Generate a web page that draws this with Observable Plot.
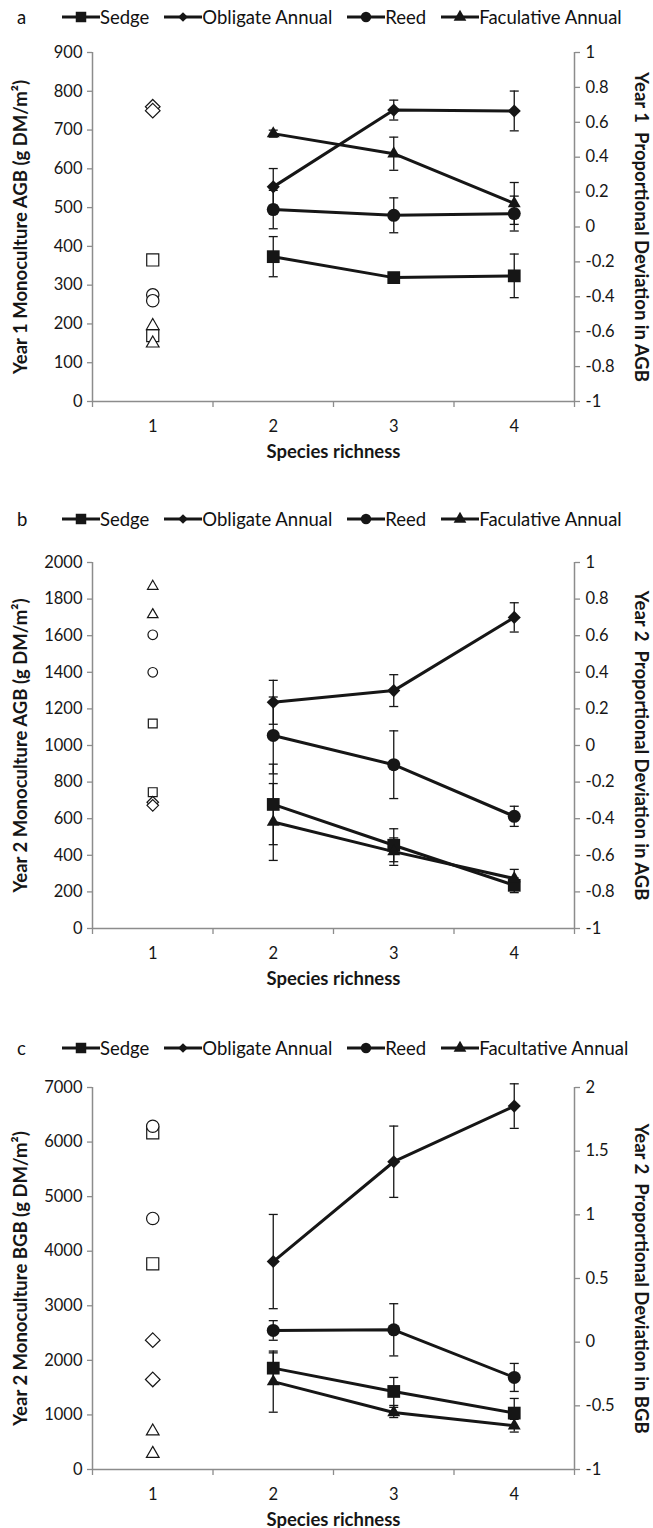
<!DOCTYPE html>
<html><head><meta charset="utf-8">
<script src="https://cdn.jsdelivr.net/npm/d3@7"></script>
<script src="https://cdn.jsdelivr.net/npm/@observablehq/plot@0.6"></script>
<style>
body{margin:0;background:#fff;font-family:Lato,"Open Sans",sans-serif;color:#111;}
.legend{display:flex;align-items:center;font-size:18.5px;white-space:nowrap;}
.legend .letter{width:62px;padding-left:17px;box-sizing:border-box;}
.legend .item{display:flex;align-items:center;margin-right:15px;}
.legend svg{display:block;}
svg{overflow:visible;}
</style></head><body><div id="chart"></div>
<script>
// ---------- shared ----------
const speciesKeys = ["sedge","obligate","reed","facultative"];
const speciesSymbols = ["square","diamond2","circle","triangle"];
const richnessMono = 1;
const richnessMix = [2,3,4];
const xTickLabels = [1,2,3,4];
const xTitle = "Species richness";

// ---------- panel a: Year 1 AGB ----------
const aLegend = ["Sedge","Obligate Annual","Reed","Faculative Annual"];
const aMonoSedge = [365,170];
const aMonoObligate = [760,750];
const aMonoReed = [275,260];
const aMonoFacultative = [195,150];
const aDevSedge = [-0.17,-0.29,-0.28];
const aDevObligate = [0.23,0.67,0.665];
const aDevReed = [0.10,0.067,0.077];
const aDevFacultative = [0.535,0.42,0.135];
const aErrSedge = [0.115,0.02,0.125];
const aErrObligate = [0.105,0.057,0.114];
const aErrReed = [0.11,0.10,0.10];
const aErrFacultative = [0.02,0.095,0.12];
const aLeftTicks = [0,100,200,300,400,500,600,700,800,900];
const aRightTicks = [-1,-0.8,-0.6,-0.4,-0.2,0,0.2,0.4,0.6,0.8,1];

// ---------- panel b: Year 2 AGB ----------
const bLegend = ["Sedge","Obligate Annual","Reed","Faculative Annual"];
const bMonoSedge = [1120,745];
const bMonoObligate = [690,673];
const bMonoReed = [1605,1400];
const bMonoFacultative = [1870,1715];
const bDevSedge = [-0.322,-0.545,-0.764];
const bDevObligate = [0.236,0.30,0.70];
const bDevReed = [0.055,-0.105,-0.387];
const bDevFacultative = [-0.418,-0.58,-0.727];
const bErrSedge = [0.22,0.09,0.04];
const bErrObligate = [0.12,0.087,0.08];
const bErrReed = [0.21,0.185,0.055];
const bErrFacultative = [0.21,0.075,0.05];
const bLeftTicks = [0,200,400,600,800,1000,1200,1400,1600,1800,2000];
const bRightTicks = [-1,-0.8,-0.6,-0.4,-0.2,0,0.2,0.4,0.6,0.8,1];

// ---------- panel c: Year 2 BGB ----------
const cLegend = ["Sedge","Obligate Annual","Reed","Facultative Annual"];
const cMonoSedge = [6170,3770];
const cMonoObligate = [2370,1650];
const cMonoReed = [6290,4600];
const cMonoFacultative = [700,290];
const cDevSedge = [-0.204,-0.387,-0.557];
const cDevObligate = [0.633,1.417,1.854];
const cDevReed = [0.092,0.097,-0.277];
const cDevFacultative = [-0.31,-0.552,-0.656];
const cErrSedge = [0.12,0.11,0.115];
const cErrObligate = [0.37,0.28,0.175];
const cErrReed = [0.077,0.205,0.11];
const cErrFacultative = [0.24,0.04,0.05];
const cLeftTicks = [0,1000,2000,3000,4000,5000,6000,7000];
const cRightTicks = [-1,-0.5,0,0.5,1,1.5,2];

// ---------- drawing ----------
const INK = "#161616";
const AXIS = "#8c8c8c";
const FONT = "Lato, 'Open Sans', sans-serif";
const TICKFONT = 16.5;
const TITLEFONT = 18.5;
const cap = {draw(ctx){ ctx.moveTo(-4.5,0); ctx.lineTo(4.5,0); }};
const filledR = {square:7.2, diamond2:5.9, circle:6.5, triangle:4.8};

function legendRow(letter, names, height){
  const row = document.createElement("div");
  row.className = "legend";
  row.style.height = height + "px";
  const l = document.createElement("div"); l.className = "letter"; l.textContent = letter; row.appendChild(l);
  names.forEach((n,i)=>{
    const it = document.createElement("div"); it.className = "item";
    const svg = d3.create("svg").attr("width",38).attr("height",16);
    svg.append("line").attr("x1",0).attr("x2",38).attr("y1",8).attr("y2",8).attr("stroke",INK).attr("stroke-width",3);
    const sizes = {square:110, diamond2:60, circle:85, triangle:70};
    const typ = {square:d3.symbolSquare, diamond2:d3.symbolDiamond2, circle:d3.symbolCircle, triangle:d3.symbolTriangle}[speciesSymbols[i]];
    svg.append("path").attr("d", d3.symbol(typ, sizes[speciesSymbols[i]])()).attr("transform","translate(19,8)").attr("fill",INK);
    it.appendChild(svg.node());
    const t = document.createElement("span"); t.textContent = n; it.appendChild(t);
    row.appendChild(it);
  });
  return row;
}

function panel(o){
  const toLeft = r => (r - o.rmin)/(o.rmax - o.rmin)*o.Lmax;
  const toRight = v => Math.round((v/o.Lmax*(o.rmax-o.rmin)+o.rmin)*100)/100;
  const mono = [], mix = [];
  speciesKeys.forEach((k,i)=>{
    o.mono[i].forEach(v => mono.push({x:richnessMono, y:v, s:i}));
    o.dev[i].forEach((v,j) => mix.push({x:richnessMix[j], y:toLeft(v), lo:toLeft(v-o.err[i][j]), hi:toLeft(v+o.err[i][j]), s:i}));
  });
  const marks = [
    Plot.ruleX([0.5,4.5], {stroke:AXIS, strokeWidth:1.5}),
    Plot.ruleY([0], {stroke:AXIS, strokeWidth:1.5}),
    Plot.axisY(o.leftTicks, {anchor:"left", tickSize:5, tickPadding:5, stroke:AXIS, strokeWidth:1.3, label:null, fill:INK, fontSize:TICKFONT, tickFormat: d => String(d)}),
    Plot.axisY(o.rightTicks.map(toLeft), {anchor:"right", tickSize:5, tickPadding:6, stroke:AXIS, strokeWidth:1.3, label:null, fill:INK, fontSize:TICKFONT, tickFormat: d => String(toRight(d))}),
    Plot.axisX([0.5,1.5,2.5,3.5,4.5], {anchor:"bottom", tickSize:6, stroke:AXIS, strokeWidth:1.3, tickFormat: () => "", label:null}),
    Plot.axisX(xTickLabels, {anchor:"bottom", tickSize:0, tickPadding:19, label:null, fill:INK, fontSize:TICKFONT, tickFormat: d => String(d)}),
    Plot.text([xTitle], {frameAnchor:"bottom", dy:51, lineAnchor:"middle", textAnchor:"middle", fontWeight:"bold", fontSize:TITLEFONT, fill:INK}),
    Plot.text([o.leftTitle], {frameAnchor:"left", dx:-71, rotate:-90, lineAnchor:"middle", textAnchor:"middle", fontWeight:"bold", fontSize:TITLEFONT, fill:INK}),
    Plot.text([o.rightTitle], {frameAnchor:"right", dx:66, rotate:90, lineAnchor:"middle", textAnchor:"middle", fontWeight:"bold", fontSize:TITLEFONT, fill:INK}),
    Plot.ruleX(mix, {x:"x", y1:"lo", y2:"hi", stroke:INK, strokeWidth:1.3}),
    Plot.dot(mix, {x:"x", y:"lo", symbol:cap, r:4, stroke:INK, strokeWidth:1.3}),
    Plot.dot(mix, {x:"x", y:"hi", symbol:cap, r:4, stroke:INK, strokeWidth:1.3}),
    Plot.line(mix, {x:"x", y:"y", z:"s", stroke:INK, strokeWidth:3})
  ];
  speciesSymbols.forEach((sym,i)=>{
    marks.push(Plot.dot(mix.filter(d=>d.s===i), {x:"x", y:"y", symbol:sym, r:filledR[sym], fill:INK, stroke:"none"}));
    marks.push(Plot.dot(mono.filter(d=>d.s===i), {x:"x", y:"y", symbol:sym, r:o.openR[sym], fill:"white", stroke:INK, strokeWidth:1.2}));
  });
  return Plot.plot({
    width:653, height:o.height, marginLeft:92, marginRight:79, marginTop:o.marginTop, marginBottom:o.marginBottom,
    x:{domain:[0.5,4.5]}, y:{domain:[0,o.Lmax]},
    style:{fontFamily:FONT, fontSize:TICKFONT+"px", background:"white", color:INK, overflow:"visible"},
    marks
  });
}

const root = document.getElementById("chart");
root.appendChild(legendRow("a", aLegend, 34));
root.appendChild(panel({
  mono:[aMonoSedge,aMonoObligate,aMonoReed,aMonoFacultative],
  dev:[aDevSedge,aDevObligate,aDevReed,aDevFacultative],
  err:[aErrSedge,aErrObligate,aErrReed,aErrFacultative],
  Lmax:900, rmin:-1, rmax:1, leftTicks:aLeftTicks, rightTicks:aRightTicks,
  leftTitle:"Year 1 Monoculture AGB (g DM/m²)", rightTitle:"Year 1  Proportional Deviation in AGB",
  height:466, marginTop:18, marginBottom:99,
  openR:{square:6.8, diamond2:6.6, circle:6.2, triangle:4.7}
}));
root.appendChild(legendRow("b", bLegend, 38));
root.appendChild(panel({
  mono:[bMonoSedge,bMonoObligate,bMonoReed,bMonoFacultative],
  dev:[bDevSedge,bDevObligate,bDevReed,bDevFacultative],
  err:[bErrSedge,bErrObligate,bErrReed,bErrFacultative],
  Lmax:2000, rmin:-1, rmax:1, leftTicks:bLeftTicks, rightTicks:bRightTicks,
  leftTitle:"Year 2 Monoculture AGB (g DM/m²)", rightTitle:"Year 2  Proportional Deviation in AGB",
  height:490, marginTop:24, marginBottom:100,
  openR:{square:5.0, diamond2:5.2, circle:4.8, triangle:3.9}
}));
root.appendChild(legendRow("c", cLegend, 40));
root.appendChild(panel({
  mono:[cMonoSedge,cMonoObligate,cMonoReed,cMonoFacultative],
  dev:[cDevSedge,cDevObligate,cDevReed,cDevFacultative],
  err:[cErrSedge,cErrObligate,cErrReed,cErrFacultative],
  Lmax:7000, rmin:-1, rmax:2, leftTicks:cLeftTicks, rightTicks:cRightTicks,
  leftTitle:"Year 2 Monoculture BGB (g DM/m²)", rightTitle:"Year 2  Proportional Deviation in BGB",
  height:460, marginTop:19, marginBottom:59,
  openR:{square:6.8, diamond2:6.6, circle:6.2, triangle:4.7}
}));
</script></body></html>
